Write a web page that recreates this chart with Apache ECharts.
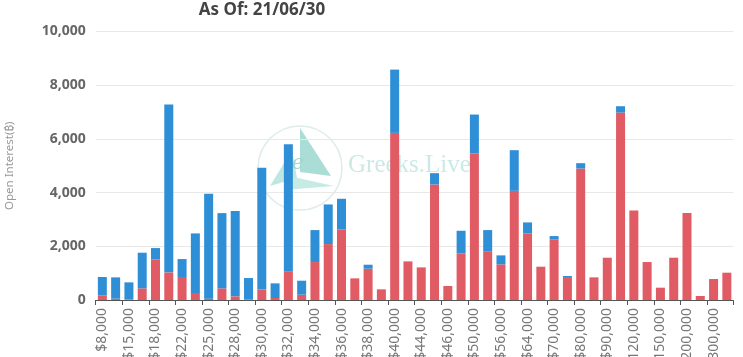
<!DOCTYPE html>
<html>
<head>
<meta charset="utf-8">
<script src="https://cdn.jsdelivr.net/npm/echarts@6/dist/echarts.min.js"></script>
<style>
html,body{margin:0;padding:0;background:#fff;}
#chart{width:743px;height:357px;}
</style>
</head>
<body>
<div id="chart"></div>
<script>
var strikes = [8000,10000,15000,16000,18000,20000,22000,24000,25000,26000,28000,29000,30000,31000,32000,33000,34000,35000,36000,37000,38000,39000,40000,42000,44000,45000,46000,48000,50000,55000,56000,60000,64000,65000,70000,75000,80000,85000,90000,100000,120000,140000,150000,160000,200000,240000,300000,400000];
var callsOI = [174,50,20,434,1513,1029,856,260,50,434,136,25,397,75,1066,198,1414,2083,2629,806,1166,397,6225,1438,1215,4303,521,1736,5456,1798,1327,4067,2480,1240,2257,856,4898,843,1575,6981,3336,1414,459,1575,3236,149,781,1017];
var putsOI = [682,793,637,1327,421,6250,669,2220,3906,2802,3175,793,4526,545,4737,521,1190,1476,1141,0,148,0,2356,0,0,421,0,843,1451,806,335,1513,409,0,124,37,198,0,0,236,0,0,0,0,0,0,0,0];
var yTicks = [0,2000,4000,6000,8000,10000];
var titleText = 'As Of: 21/06/30';
var yName = 'Open Interest(\u20BF)';

function fmt(n){return n.toString().replace(/\B(?=(\d{3})+(?!\d))/g, ',');}
var categories = strikes.map(function(s){return '$' + fmt(s);});

var chart = echarts.init(document.getElementById('chart'), null, {renderer:'canvas'});
chart.setOption({
  animation:false,
  grid:{left:95.7, right:9.5, top:31.5, bottom:57, containLabel:false, outerBoundsMode:'none'},
  graphic:[
    {type:'circle', z:-10, shape:{cx:300, cy:168, r:42}, style:{fill:'none', stroke:'#dcecea', lineWidth:1.5}},
    {type:'polygon', z:-10, shape:{points:[[300,128],[331,176],[300,172]]}, style:{fill:'#a9ddd5'}},
    {type:'polygon', z:-10, shape:{points:[[270,186],[292,150],[297,178]]}, style:{fill:'#bfe7e1'}},
    {type:'polygon', z:-10, shape:{points:[[289,176],[334,186],[284,190]]}, style:{fill:'#c6eae4'}},
    {type:'text', z:-10, style:{x:298, y:164, text:'e', fontSize:20, fontStyle:'italic', fontFamily:'DejaVu Serif', fill:'#9fd6cf', textAlign:'center', textVerticalAlign:'middle'}},
    {type:'text', z:-10, style:{x:348, y:165, text:'Greeks.Live', fontSize:25, fontFamily:'Liberation Serif', fill:'#cbe9e5', textAlign:'left', textVerticalAlign:'middle'}},
    {type:'text', z:10, style:{x:262, y:10, text:titleText, fontSize:17, fontWeight:'bold', fontFamily:'Noto Sans', fill:'#444', textAlign:'center', textVerticalAlign:'middle'}}
  ],
  xAxis:{
    type:'category',
    data:categories,
    axisLine:{lineStyle:{color:'#555'}},
    axisTick:{show:true, length:5, lineStyle:{color:'#555'}},
    axisLabel:{interval:1, rotate:90, fontSize:14, color:'#777', fontFamily:'Noto Sans', margin:8}
  },
  yAxis:{
    type:'value',
    min:yTicks[0], max:yTicks[yTicks.length-1], interval:2000,
    name:yName, nameLocation:'middle', nameGap:80,
    nameTextStyle:{fontSize:11.5, color:'#999', fontFamily:'Noto Sans'},
    axisLine:{show:false}, axisTick:{show:false},
    axisLabel:{fontSize:14, color:'#666', fontWeight:'bold', fontFamily:'Noto Sans', margin:10, formatter:function(v){return fmt(v);}},
    splitLine:{lineStyle:{color:'#e8e8e8'}}
  },
  series:[
    {name:'Calls', type:'bar', stack:'oi', data:callsOI, barWidth:9, itemStyle:{color:'#e15b64'}},
    {name:'Puts', type:'bar', stack:'oi', data:putsOI, barWidth:9, itemStyle:{color:'#2f8fd6'}}
  ]
});
</script>
</body>
</html>
